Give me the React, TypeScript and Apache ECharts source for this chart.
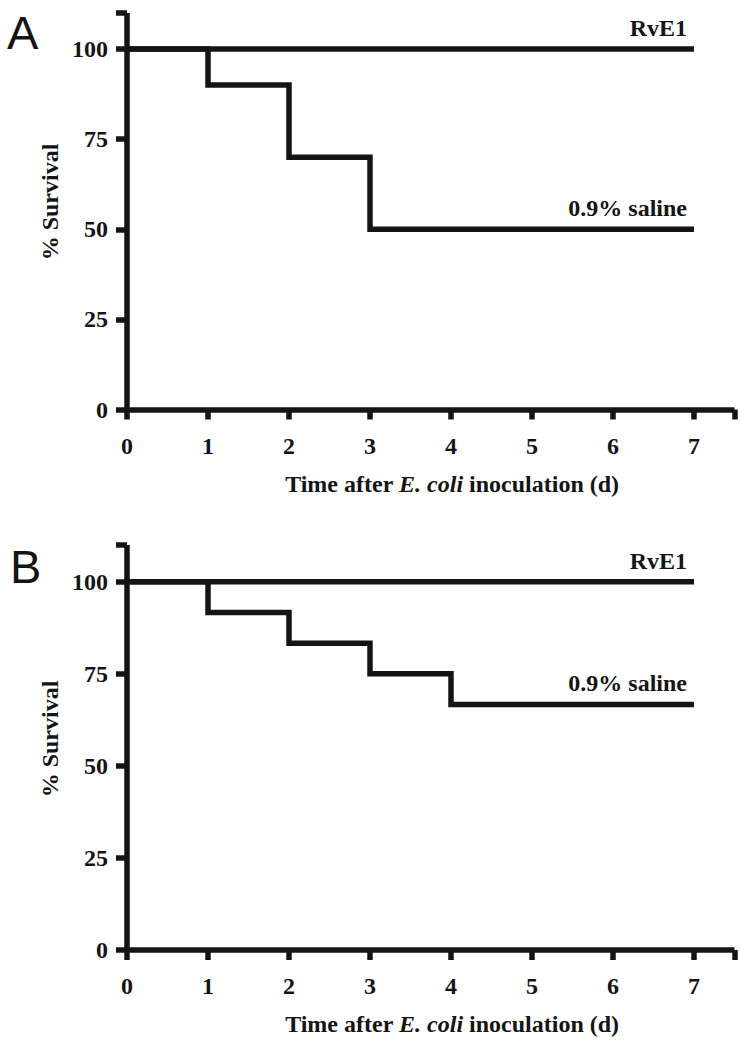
import React, { useEffect, useRef } from "react";
import * as echarts from "echarts";

const days = [0, 1, 2, 3, 4, 5, 6, 7];
const rvE1A = [100, 100, 100, 100, 100, 100, 100, 100];
const salineA = [100, 90, 70, 50, 50, 50, 50, 50];
const rvE1B = [100, 100, 100, 100, 100, 100, 100, 100];
const salineB = [100, 91.7, 83.3, 75, 66.7, 66.7, 66.7, 66.7];
const yTicks = [0, 25, 50, 75, 100];
const seriesNames = ["RvE1", "0.9% saline"];
const panelLetters = ["A", "B"];

const INK = "#141414";
const SERIF = "'Liberation Serif', 'Times New Roman', serif";
const LW = 5.5;

export default function App() {
  const ref = useRef<HTMLDivElement>(null);
  useEffect(() => {
    if (!ref.current) return;
    const chart = echarts.init(ref.current, null, { renderer: "svg" });
    const pts = (vals: number[]) => days.map((d, i) => [d, vals[i]]);
    const grids = [
      { left: 127, top: 13, width: 607.5, height: 396.5 },
      { left: 127, top: 545, width: 607.5, height: 405 },
    ];
    const xAxes = grids.map((_, gi) => ({
      type: "value",
      gridIndex: gi,
      min: 0,
      max: 7.5,
      interval: 1,
      splitLine: { show: false },
      axisLine: { show: true, onZero: false, lineStyle: { color: INK, width: LW, cap: "butt" } },
      axisTick: { show: true, length: 10, inside: false, lineStyle: { color: INK, width: LW } },
      axisLabel: {
        margin: 24,
        color: INK,
        fontFamily: SERIF,
        fontWeight: "bold",
        fontSize: 24,
        formatter: (v: number) => (Number.isInteger(v) ? String(v) : ""),
      },
    }));
    const yAxes = grids.map((_, gi) => ({
      type: "value",
      gridIndex: gi,
      min: 0,
      max: 110,
      interval: 25,
      splitLine: { show: false },
      axisLine: { show: true, onZero: false, lineStyle: { color: INK, width: LW, cap: "butt" } },
      axisTick: { show: true, length: 11, lineStyle: { color: INK, width: LW } },
      axisLabel: {
        margin: 19,
        color: INK,
        fontFamily: SERIF,
        fontWeight: "bold",
        fontSize: 24,
        formatter: (v: number) => (yTicks.includes(v) ? String(v) : ""),
      },
    }));
    const mkSeries = (vals: number[], gi: number, name: string, dy: number) => ({
      type: "line",
      name,
      xAxisIndex: gi,
      yAxisIndex: gi,
      data: pts(vals),
      step: "end",
      showSymbol: false,
      symbol: "none",
      lineStyle: { color: INK, width: LW, cap: "butt", join: "miter" },
      endLabel: {
        show: true,
        formatter: name,
        color: INK,
        fontFamily: SERIF,
        fontWeight: "bold",
        fontSize: 24,
        align: "right",
        verticalAlign: "middle",
        distance: 0,
        offset: [-7, dy],
      },
    });
    const xTitle = (y: number) => ({
      type: "text",
      x: 452,
      y,
      style: {
        text: "{b|Time after }{i|E. coli}{b| inoculation (d)}",
        align: "center",
        verticalAlign: "middle",
        rich: {
          b: { fontFamily: SERIF, fontWeight: "bold", fontSize: 24, fill: INK },
          i: { fontFamily: SERIF, fontWeight: "bold", fontStyle: "italic", fontSize: 24, fill: INK },
        },
      },
    });
    const yTitle = (y: number) => ({
      type: "text",
      x: 50,
      y,
      rotation: Math.PI / 2,
      style: {
        text: "% Survival",
        fontFamily: SERIF,
        fontWeight: "bold",
        fontSize: 24,
        fill: INK,
        align: "center",
        verticalAlign: "middle",
      },
    });
    const letter = (t: string, x: number, y: number) => ({
      type: "text",
      x,
      y,
      style: {
        text: t,
        fontFamily: "'Liberation Sans', Arial, sans-serif",
        fontSize: 47,
        fill: INK,
        align: "left",
        verticalAlign: "middle",
      },
    });
    chart.setOption({
      animation: false,
      backgroundColor: "#ffffff",
      grid: grids,
      xAxis: xAxes,
      yAxis: yAxes,
      series: [
        mkSeries(rvE1A, 0, seriesNames[0], -21),
        mkSeries(salineA, 0, seriesNames[1], -21),
        mkSeries(rvE1B, 1, seriesNames[0], -21),
        mkSeries(salineB, 1, seriesNames[1], -21),
      ],
      graphic: [
        xTitle(484),
        xTitle(1024),
        yTitle(202),
        yTitle(739),
        letter(panelLetters[0], 7, 32),
        letter(panelLetters[1], 10, 566),
      ],
    });
    return () => chart.dispose();
  }, []);
  return (
    <div
      ref={ref}
      style={{ position: "absolute", left: 0, top: 0, width: 741, height: 1050, background: "#fff" }}
    />
  );
}
